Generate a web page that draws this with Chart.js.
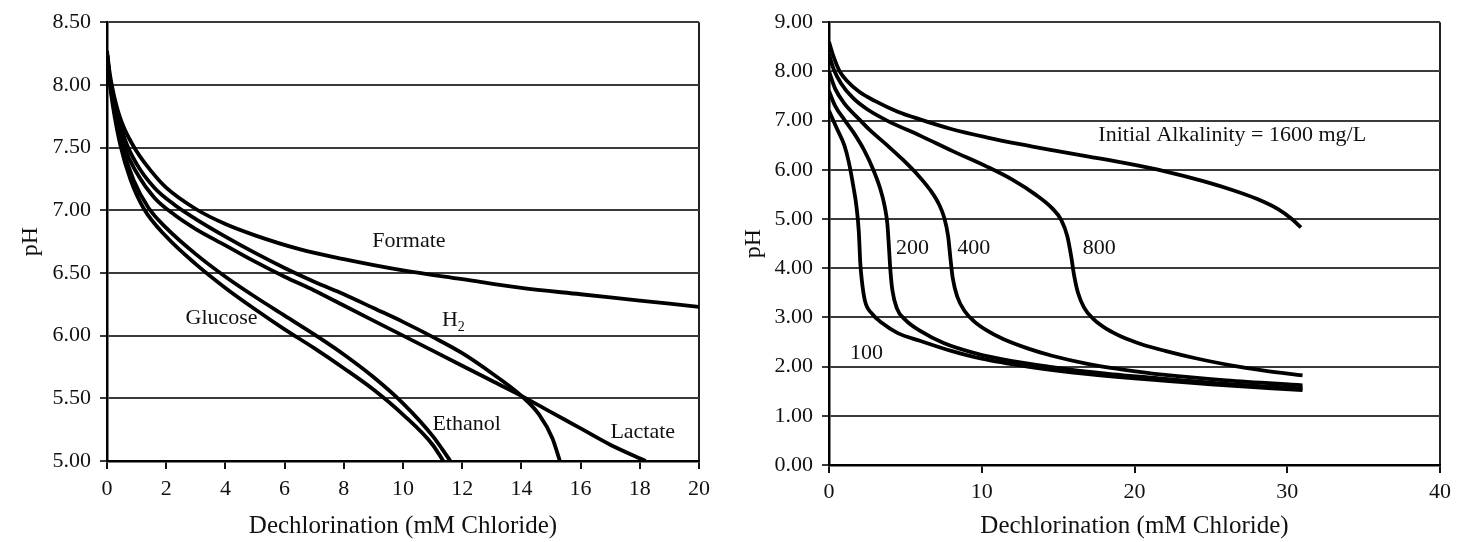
<!DOCTYPE html>
<html>
<head>
<meta charset="utf-8">
<script src="https://cdn.jsdelivr.net/npm/chart.js@4"></script>
<style>
  body { margin: 0; background: #fff; }
  #left { position: absolute; left: 0; top: 0; }
  #right { position: absolute; left: 720px; top: 0; }
</style>
</head>
<body>
<canvas id="left" width="720" height="542"></canvas>
<canvas id="right" width="737" height="542"></canvas>
<script>
// left panel: pH against dechlorination, one curve per electron donor
const formateCl = [0, 0.1, 0.25, 0.5, 1, 1.5, 2, 3, 4, 5, 6.5, 8, 10, 12, 14, 16, 18, 20];
const formatePH = [8.27, 8.08, 7.9, 7.7, 7.47, 7.31, 7.18, 7.01, 6.89, 6.8, 6.69, 6.61, 6.52, 6.45, 6.38, 6.33, 6.28, 6.23];

const h2Cl = [0, 0.1, 0.25, 0.6, 1, 1.6, 2.3, 3, 4, 5, 6, 7, 8, 9, 10, 11, 12, 13, 14, 14.6, 15.05, 15.3];
const h2PH = [8.25, 8.05, 7.88, 7.57, 7.37, 7.18, 7.04, 6.93, 6.79, 6.66, 6.54, 6.43, 6.33, 6.22, 6.11, 5.99, 5.86, 5.7, 5.52, 5.37, 5.18, 5.0];

const lactateCl = [0, 0.1, 0.25, 0.6, 1, 1.6, 2.3, 3, 4, 5, 6, 7, 8, 9, 10, 11, 12, 13, 14, 15, 16, 17, 18.2];
const lactatePH = [8.25, 8.03, 7.85, 7.5, 7.3, 7.1, 6.96, 6.85, 6.72, 6.59, 6.47, 6.36, 6.24, 6.12, 6.0, 5.88, 5.76, 5.64, 5.52, 5.39, 5.26, 5.13, 5.0];

const ethanolCl = [0, 0.1, 0.2, 0.5, 0.9, 1.4, 2, 3, 4, 5, 6, 7, 8, 9, 10, 11, 11.6];
const ethanolPH = [8.25, 8.02, 7.86, 7.52, 7.24, 7.02, 6.86, 6.65, 6.47, 6.31, 6.16, 6.01, 5.85, 5.67, 5.46, 5.2, 5.0];

const glucoseCl = [0, 0.1, 0.2, 0.45, 0.8, 1.25, 2, 3, 4, 5, 6, 7, 8, 9, 10, 11, 11.36];
const glucosePH = [8.25, 8.0, 7.83, 7.52, 7.24, 7.01, 6.79, 6.57, 6.38, 6.21, 6.05, 5.9, 5.74, 5.57, 5.37, 5.13, 5.0];

const leftLabels = ["Formate", "H2", "Glucose", "Ethanol", "Lactate"];
const leftLabelX = [10.2, 11.7, 3.87, 12.15, 18.1];
const leftLabelY = [6.75, 6.12, 6.14, 5.29, 5.23];

// right panel: one curve per initial alkalinity (mg/L)
const alk1600Cl = [0, 0.3, 0.7, 1.2, 2, 3, 4.5, 6, 8, 10.3, 12.5, 14.6, 17, 19.5, 22, 24.5, 26.5, 28, 29.4, 30.3, 30.9];
const alk1600PH = [8.6, 8.3, 8.0, 7.8, 7.58, 7.4, 7.18, 7.02, 6.83, 6.66, 6.52, 6.4, 6.27, 6.13, 5.97, 5.77, 5.58, 5.41, 5.2, 5.0, 4.83];

const alk800Cl = [0, 0.3, 0.8, 1.6, 2.5, 3.8, 6, 8.1, 10.3, 12, 13.5, 14.6, 15.2, 15.6, 15.85, 16.05, 16.3, 16.7, 17.3, 18.2, 19.2, 20.5, 22, 24, 26.4, 28.5, 31];
const alk800PH = [8.35, 8.05, 7.75, 7.45, 7.23, 7.0, 6.69, 6.38, 6.07, 5.8, 5.5, 5.22, 4.98, 4.65, 4.25, 3.85, 3.5, 3.2, 2.97, 2.76, 2.6, 2.45, 2.32, 2.17, 2.02, 1.92, 1.82];

const alk400Cl = [0, 0.4, 1, 2, 2.7, 3.8, 4.85, 5.8, 6.6, 7.2, 7.55, 7.8, 7.95, 8.1, 8.4, 8.9, 9.5, 10.3, 11.4, 13, 14.6, 17, 19, 22, 26, 31];
const alk400PH = [8.0, 7.65, 7.35, 7.02, 6.8, 6.5, 6.2, 5.9, 5.6, 5.3, 5.02, 4.65, 4.2, 3.8, 3.42, 3.12, 2.92, 2.74, 2.56, 2.37, 2.22, 2.05, 1.95, 1.83, 1.72, 1.62];

const alk200Cl = [0, 0.4, 1, 1.6, 2.3, 2.9, 3.35, 3.65, 3.82, 3.92, 4.02, 4.15, 4.45, 5.0, 6, 7.5, 9.6, 12, 14.6, 18, 22, 26, 31];
const alk200PH = [7.6, 7.3, 7.02, 6.76, 6.4, 6.0, 5.62, 5.25, 4.9, 4.45, 3.95, 3.55, 3.18, 2.95, 2.72, 2.48, 2.27, 2.11, 1.99, 1.86, 1.75, 1.65, 1.56];

const alk100Cl = [0, 0.5, 1, 1.3, 1.6, 1.8, 1.95, 2.05, 2.15, 2.35, 2.8, 3.5, 4.5, 6, 8, 10, 13, 16, 20, 25, 31];
const alk100PH = [7.2, 6.85, 6.5, 6.15, 5.65, 5.25, 4.75, 4.1, 3.75, 3.34, 3.08, 2.88, 2.68, 2.52, 2.32, 2.16, 2.0, 1.88, 1.76, 1.64, 1.52];

const rightLabels = ["Initial Alkalinity = 1600 mg/L", "800", "400", "200", "100"];
const rightLabelX = [26.4, 17.7, 9.47, 5.46, 2.46];
const rightLabelY = [6.71, 4.4, 4.4, 4.4, 2.27];

const SERIF = "'Liberation Serif', 'Times New Roman', serif";

const pts = (xs, ys) => xs.map((x, i) => ({ x, y: ys[i] }));

function curve(label, xs, ys) {
  return {
    label,
    data: pts(xs, ys),
    borderColor: "#000",
    borderWidth: 3.8,
    pointRadius: 0,
    fill: false,
    cubicInterpolationMode: "monotone",
  };
}

// draws the in-plot text labels at data coordinates
function textLabels(texts, xs, ys) {
  return {
    id: "textLabels",
    afterDatasetsDraw(chart) {
      const { ctx, scales } = chart;
      ctx.save();
      ctx.fillStyle = "#111";
      ctx.textBaseline = "middle";
      texts.forEach((t, i) => {
        const px = scales.x.getPixelForValue(xs[i]);
        const py = scales.y.getPixelForValue(ys[i]);
        ctx.font = "22px " + SERIF;
        if (t === "H2") {
          const wH = ctx.measureText("H").width;
          ctx.font = "14px " + SERIF;
          const w2 = ctx.measureText("2").width;
          const x0 = px - (wH + w2) / 2;
          ctx.textAlign = "left";
          ctx.fillText("2", x0 + wH, py + 7);
          ctx.font = "22px " + SERIF;
          ctx.fillText("H", x0, py);
        } else {
          ctx.textAlign = "center";
          ctx.fillText(t, px, py);
        }
      });
      ctx.restore();
    },
  };
}

function makeOptions(o) {
  return {
    responsive: false,
    animation: false,
    layout: { padding: { left: 0, top: 21, right: o.padRight, bottom: 0 } },
    plugins: { legend: { display: false }, tooltip: { enabled: false } },
    scales: {
      x: {
        type: "linear",
        min: o.xMin,
        max: o.xMax,
        ticks: { stepSize: o.xStep, font: { family: SERIF, size: 22 }, color: "#111", padding: o.xTickPad, maxRotation: 0 },
        grid: {
          color: (c) => (c.tick && c.tick.value === o.xMax ? "#222" : "rgba(0,0,0,0)"),
          tickColor: "#111",
          tickLength: 8,
          lineWidth: 2,
        },
        border: { color: "#000", width: 2.5 },
        title: {
          display: true,
          text: "Dechlorination (mM Chloride)",
          font: { family: SERIF, size: 25 },
          color: "#111",
          padding: { top: 0, bottom: 1 },
        },
        afterFit: (s) => { s.height = o.xHeight; },
      },
      y: {
        type: "linear",
        min: o.yMin,
        max: o.yMax,
        ticks: {
          stepSize: o.yStep,
          font: { family: SERIF, size: 22 },
          color: "#111",
          padding: 9,
          callback: (v) => v.toFixed(2),
        },
        grid: { color: "#3a3a3a", tickColor: "#3a3a3a", tickLength: 7, lineWidth: 2 },
        border: { color: "#000", width: 2.5 },
        title: {
          display: true,
          text: "pH",
          font: { family: SERIF, size: 24 },
          color: "#111",
          padding: { top: o.pHPad, bottom: 0 },
        },
        afterFit: (s) => { s.width = o.yWidth; },
      },
    },
  };
}

new Chart(document.getElementById("left").getContext("2d"), {
  type: "line",
  data: {
    datasets: [
      curve("Formate", formateCl, formatePH),
      curve("H2", h2Cl, h2PH),
      curve("Lactate", lactateCl, lactatePH),
      curve("Ethanol", ethanolCl, ethanolPH),
      curve("Glucose", glucoseCl, glucosePH),
    ],
  },
  options: makeOptions({
    padRight: 21, xMin: 0, xMax: 20, xStep: 2, xTickPad: 7, xHeight: 81,
    yMin: 5, yMax: 8.5, yStep: 0.5, yWidth: 107, pHPad: 16,
  }),
  plugins: [textLabels(leftLabels, leftLabelX, leftLabelY)],
});

new Chart(document.getElementById("right").getContext("2d"), {
  type: "line",
  data: {
    datasets: [
      curve("1600", alk1600Cl, alk1600PH),
      curve("800", alk800Cl, alk800PH),
      curve("400", alk400Cl, alk400PH),
      curve("200", alk200Cl, alk200PH),
      curve("100", alk100Cl, alk100PH),
    ],
  },
  options: makeOptions({
    padRight: 15, xMin: 0, xMax: 40, xStep: 10, xTickPad: 6, xHeight: 77,
    yMin: 0, yMax: 9, yStep: 1, yWidth: 109, pHPad: 19,
  }),
  plugins: [textLabels(rightLabels, rightLabelX, rightLabelY)],
});
</script>
</body>
</html>
